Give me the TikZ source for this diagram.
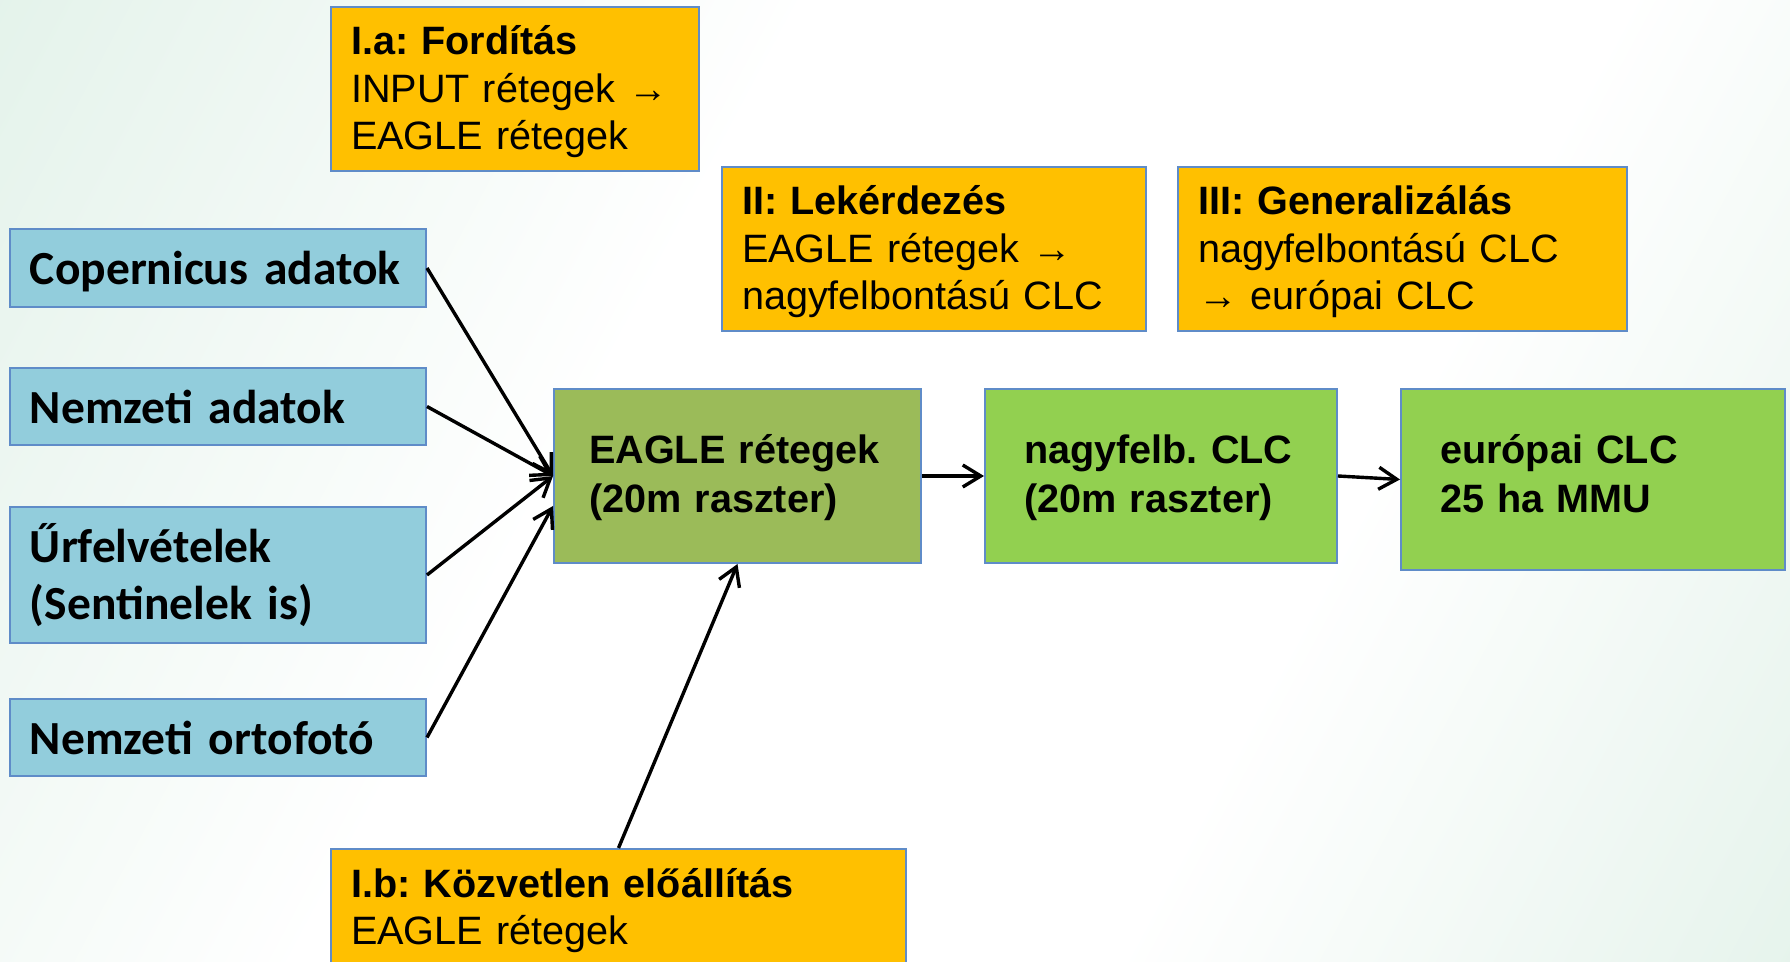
\documentclass[tikz,border=0pt]{standalone}
\usepackage{fontspec}
\setmainfont{Liberation Sans}
\newfontfamily\calibri{Carlito}
\usetikzlibrary{arrows.meta}
\frenchspacing
\definecolor{c1}{RGB}{146,205,220}
\definecolor{c2}{RGB}{255,192,0}
\definecolor{c3}{RGB}{155,187,89}
\definecolor{c4}{RGB}{146,208,80}
\definecolor{c5}{RGB}{95,140,200}
\definecolor{c6}{RGB}{210,234,221}
\pgfdeclarehorizontalshading{bg fade}{100bp}{color(0bp)=(c6); color(40bp)=(white); color(64bp)=(white); color(100bp)=(c6)}
\tikzstyle{flow}=[
    box/.style={rectangle, draw=c5, line width=1pt, align=left, inner ysep=0pt},
    input box/.style={box, fill=c1, inner xsep=10pt, text width=188pt,
        font={\calibri\bfseries\fontsize{23.75}{28.5}\selectfont}},
    step box/.style={box, fill=c2, anchor=north west, inner xsep=10pt,
        text height=24pt, text depth=58pt,
        font={\fontsize{19.8}{23.75}\selectfont}},
    layer box/.style={box, fill=c4, text height=37.5pt, text depth=49.5pt,
        font={\bfseries\fontsize{19.8}{24.5}\selectfont}},
    arr/.style={->, line width=1.7pt},
]

\begin{document}
\begin{tikzpicture}
[
    flow,
    x=0.5pt, y=-0.5pt,
    >={Straight Barb[length=9pt,width=11pt]}
]
    \shade[shading=bg fade, shading angle=-28] (0,0) rectangle (1790,962);
    \useasboundingbox (0,0) rectangle (1790,962);
    \clip (0,0) rectangle (1790,962);

    % input data
    \node[input box, minimum height=39pt, text depth=0pt] (cop) at (218,268) {Copernicus adatok};
    \node[input box, minimum height=38.5pt] (nat) at (218,406.5) {Nemzeti adatok};
    \node[input box, minimum height=68pt] (urf) at (218,575) {Űrfelvételek\\(Sentinelek is)};
    \node[input box, minimum height=38.5pt] (orto) at (218,737.5) {Nemzeti ortofotó};

    % layers
    \node[layer box, fill=c3, inner xsep=17.5pt, text width=148.5pt] (eagle) at (737.5,476)
        {EAGLE rétegek\\(20m raszter)};
    \node[layer box, inner xsep=19.5pt, text width=137pt] (nagy) at (1161,476)
        {nagyfelb. CLC\\(20m raszter)};
    \node[layer box, inner xsep=19.5pt, text width=153pt, text depth=53pt] (eur) at (1593,479.5)
        {európai CLC\\25 ha MMU};

    % steps
    \node[step box, text width=163.75pt] (Ia) at (330,6)
        {\textbf{I.a: Fordítás}\\INPUT rétegek →\\EAGLE rétegek};
    \node[step box, text width=192pt] (II) at (721,166)
        {\textbf{II: Lekérdezés}\\EAGLE rétegek →\\nagyfelbontású CLC};
    \node[step box, text width=204.5pt] (III) at (1177,166)
        {\textbf{III: Generalizálás}\\nagyfelbontású CLC\\→ európai CLC};
    \node[step box, text width=267.5pt] (Ib) at (330,848)
        {\textbf{I.b: Közvetlen előállítás}\\EAGLE rétegek};

    \foreach \s in {cop,nat,urf}
        \draw[arr] (\s.east) -- (eagle.west);
    \draw[arr] (orto.east) -- ([yshift=-15pt]eagle.west);
    \draw[arr] (Ib.north) -- (eagle.south);
    \draw[arr] (eagle.east) -- (nagy.west);
    \draw[arr] (nagy.east) -- (eur.west);
\end{tikzpicture}
\end{document}
